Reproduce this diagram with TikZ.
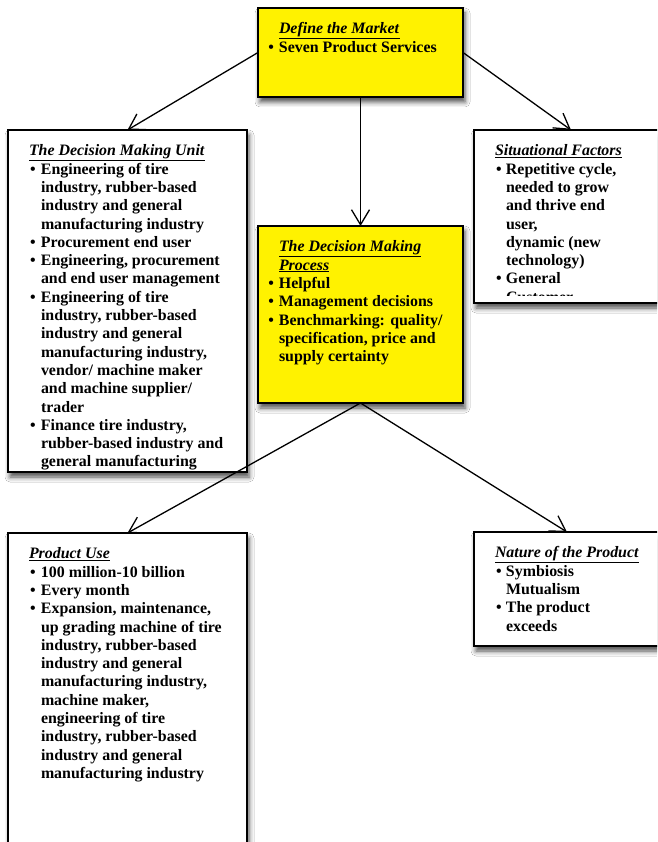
\documentclass[tikz,border=0pt]{standalone}
\usepackage{fontspec}
\setmainfont{Liberation Serif}
\usetikzlibrary{arrows.meta,shadows.blur}
\newlength{\bind}
\newcommand{\YItem}[1]{\llap{\textbullet\hspace{5pt}}#1}
\newcommand{\WItem}[1]{\makebox[\bind][l]{\hspace{1pt}\textbullet}#1}
\newcommand{\WCont}[1]{\hspace*{\bind}#1}
\newcommand{\Ttl}[1]{\underline{\textit{#1}}}
\begin{document}
\begin{tikzpicture}[x=1pt,y=-1pt,
  box/.style={draw, line width=1.6pt, fill=white, rectangle, inner sep=0pt, outer sep=0pt,
    blur shadow={shadow xshift=2pt, shadow yshift=-5pt, shadow blur radius=5pt, shadow opacity=70}},
  ybox/.style={box, fill=yellow},
  txt/.style={anchor=north west, inner sep=0pt, outer sep=0pt, align=left, font=\fontsize{15.9}{18.3}\selectfont\bfseries},
  conn/.style={line width=1.3pt, -{Straight Barb[length=15pt,width=18pt]}}
]
\clip (0,0) rectangle (657,842);
\fill[white] (0,0) rectangle (657,842);

% boxes
\node[ybox, minimum width=205pt, minimum height=89pt] (mkt) at (360.5,52.5) {};
\node[box, minimum width=239pt, minimum height=342pt] (dmu) at (127.5,301) {};
\node[box, minimum width=194pt, minimum height=173pt] (sit) at (571,216.5) {};
\node[ybox, minimum width=205pt, minimum height=177pt] (dmp) at (360.5,314.5) {};
\node[box, minimum width=239pt, minimum height=337pt] (use) at (127.5,701.5) {};
\node[box, minimum width=186pt, minimum height=114pt] (nat) at (567,589) {};

% texts
\node[txt] (mkttxt) at (279,21) {\begin{tabular}{@{}l@{}}
\Ttl{Define the Market}\\
\YItem{Seven Product Services}
\end{tabular}};

\setlength{\bind}{12pt}
\node[txt] (dmutxt) at (29,143) {\begin{tabular}{@{}l@{}}
\Ttl{The Decision Making Unit}\\
\WItem{Engineering of tire}\\
\WCont{industry, rubber-based}\\
\WCont{industry and general}\\
\WCont{manufacturing industry}\\
\WItem{Procurement end user}\\
\WItem{Engineering, procurement}\\
\WCont{and end user management}\\
\WItem{Engineering of tire}\\
\WCont{industry, rubber-based}\\
\WCont{industry and general}\\
\WCont{manufacturing industry,}\\
\WCont{vendor/ machine maker}\\
\WCont{and machine supplier/}\\
\WCont{trader}\\
\WItem{Finance tire industry,}\\
\WCont{rubber-based industry and}\\
\WCont{general manufacturing}
\end{tabular}};

\node[txt] (usetxt) at (29,546) {\begin{tabular}{@{}l@{}}
\Ttl{Product Use}\\
\WItem{100 million-10 billion}\\
\WItem{Every month}\\
\WItem{Expansion, maintenance,}\\
\WCont{up grading machine of tire}\\
\WCont{industry, rubber-based}\\
\WCont{industry and general}\\
\WCont{manufacturing industry,}\\
\WCont{machine maker,}\\
\WCont{engineering of tire}\\
\WCont{industry, rubber-based}\\
\WCont{industry and general}\\
\WCont{manufacturing industry}
\end{tabular}};

\node[txt] (dmptxt) at (279,239) {\begin{tabular}{@{}l@{}}
\Ttl{The Decision Making}\\
\Ttl{Process}\\
\YItem{Helpful}\\
\YItem{Management decisions}\\
\YItem{Benchmarking: quality/}\\
specification, price and\\
supply certainty
\end{tabular}};

\setlength{\bind}{11pt}
\begin{scope}
\clip (474,130) rectangle (668,295);
\node[txt] (sittxt) at (495,143) {\begin{tabular}{@{}l@{}}
\Ttl{Situational Factors}\\
\WItem{Repetitive cycle,}\\
\WCont{needed to grow}\\
\WCont{and thrive end}\\
\WCont{user,}\\
\WCont{dynamic (new}\\
\WCont{technology)}\\
\WItem{General}\\
\WCont{Customer}
\end{tabular}};
\end{scope}

\node[txt] (nattxt) at (495,545) {\begin{tabular}{@{}l@{}}
\Ttl{Nature of the Product}\\
\WItem{Symbiosis}\\
\WCont{Mutualism}\\
\WItem{The product}\\
\WCont{exceeds}
\end{tabular}};

% connectors
\draw[conn] (mkt.west) -- (dmu.north);
\draw[conn] (mkt.east) -- (sit.north);
\draw[conn] (mkt.south) -- (dmp.north);
\draw[conn] (dmp.south) -- (use.north);
\draw[conn] (dmp.south) -- (nat.north);
\end{tikzpicture}
\end{document}
